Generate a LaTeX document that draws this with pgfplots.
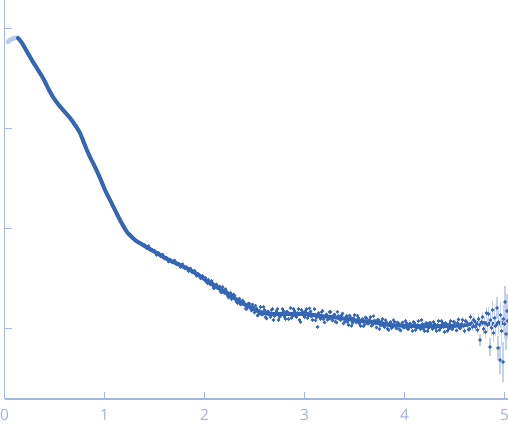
\documentclass[border=0pt]{standalone}
\usepackage{pgfplots}
\pgfplotsset{compat=1.18}
\usepackage{fontspec}
\setmainfont{Open Sans}
\definecolor{axiscol}{HTML}{A3B7E2}
\definecolor{labelcol}{HTML}{A2B2D8}
\definecolor{dotcol}{HTML}{3565B5}
\definecolor{errcol}{HTML}{C3D1EE}
\definecolor{lightcol}{HTML}{BACAEA}

\begin{document}
\begin{tikzpicture}
\useasboundingbox (-4.5bp,-38bp) rectangle (503.5bp,399bp);
\begin{axis}[
    at={(0,0)}, anchor=south west,
    scale only axis,
    width=503.5bp, height=399bp,
    xmin=0, xmax=5.035,
    ymin=0.3, ymax=4.29,
    axis x line=bottom, axis y line=left,
    axis line style={color=axiscol, line width=1.1bp, -},
    tick style={color=axiscol, line width=1bp},
    tick align=inside,
    major tick length=7bp,
    xtick={0,1,2,3,4,5},
    ytick={1,2,3,4},
    yticklabels={},
    /pgf/number format/assume math mode=true,
    xticklabel style={font=\fontsize{15.5bp}{18bp}\selectfont, text=labelcol, yshift=-7bp},
    dots/.style={only marks, mark=*, mark size=1.5bp, mark options={draw=dotcol, fill=dotcol}},
    ]
% excluded first points
\addplot[lightcol, line width=4.5bp, line cap=round] coordinates {
(0.035,3.87) (0.055,3.89) (0.075,3.90) (0.095,3.91) (0.115,3.91) (0.135,3.91)
};
% dense band core
\addplot[dotcol, line width=4bp, smooth, tension=0.4, line join=round, line cap=round] coordinates {
(0.135,3.91) (0.175,3.86) (0.215,3.79) (0.285,3.67) (0.335,3.59) (0.385,3.51)
(0.435,3.41) (0.485,3.32) (0.535,3.25) (0.585,3.19) (0.655,3.11) (0.705,3.04)
(0.755,2.96) (0.815,2.81) (0.855,2.72) (0.905,2.62) (0.955,2.51) (1.005,2.39)
(1.055,2.29) (1.105,2.19) (1.155,2.09) (1.225,1.97) (1.305,1.89) (1.385,1.84)
(1.505,1.77) (1.625,1.70) (1.755,1.64) (1.855,1.59) (1.955,1.53) (2.055,1.46)
(2.175,1.39) (2.285,1.32) (2.355,1.27) (2.455,1.22) (2.555,1.17) (2.655,1.15)
(2.755,1.15) (2.905,1.15) (3.025,1.15) (3.155,1.13) (3.355,1.11) (3.555,1.08)
(3.685,1.07) (3.855,1.04) (4.055,1.03) (4.255,1.03) (4.455,1.03) (4.605,1.04)
(4.755,1.06) (4.905,1.05) (5.025,1.07)
};
% scattered points, even hundredths
\addplot[dots] table {
x y
1.40 1.84
1.42 1.81
1.44 1.828
1.46 1.786
1.48 1.785
1.50 1.783
1.52 1.741
1.54 1.76
1.56 1.728
1.58 1.746
1.60 1.705
1.62 1.713
1.64 1.673
1.66 1.694
1.68 1.665
1.70 1.685
1.72 1.646
1.74 1.657
1.76 1.618
1.78 1.648
1.80 1.608
1.82 1.618
1.84 1.578
1.86 1.607
1.88 1.565
1.90 1.583
1.92 1.531
1.94 1.549
1.96 1.506
1.98 1.532
2.00 1.51
2.02 1.47
2.04 1.49
2.06 1.445
2.08 1.46
2.10 1.41
2.12 1.445
2.14 1.41
2.16 1.375
2.18 1.42
2.20 1.36
2.22 1.375
2.24 1.315
2.26 1.36
2.28 1.31
2.30 1.335
2.32 1.27
2.34 1.295
2.36 1.245
2.38 1.285
2.40 1.25
2.42 1.20
2.44 1.255
2.46 1.205
2.48 1.245
2.50 1.165
2.52 1.205
2.54 1.145
2.56 1.22
2.58 1.145
2.60 1.19
2.62 1.105
2.64 1.17
2.66 1.12
2.68 1.20
2.70 1.13
2.72 1.18
2.74 1.09
2.76 1.15
2.78 1.20
2.80 1.12
2.82 1.17
2.84 1.10
2.86 1.21
2.88 1.13
2.90 1.18
2.92 1.12
2.94 1.20
2.96 1.07
2.98 1.17
3.00 1.12
3.02 1.20
3.04 1.13
3.06 1.175
3.08 1.09
3.10 1.20
3.12 1.115
3.14 1.16
3.16 1.10
3.18 1.18
3.20 1.065
3.22 1.145
3.24 1.10
3.26 1.17
3.28 1.085
3.30 1.145
3.32 1.065
3.34 1.13
3.36 1.09
3.38 1.155
3.40 1.07
3.42 1.13
3.44 1.04
3.46 1.115
3.48 1.06
3.50 1.14
3.52 1.065
3.54 1.11
3.56 1.03
3.58 1.10
3.60 1.045
3.62 1.105
3.64 1.055
3.66 1.12
3.68 1.04
3.70 1.085
3.72 1.015
3.74 1.09
3.76 1.035
3.78 1.10
3.80 1.02
3.82 1.065
3.84 0.99
3.86 1.07
3.88 1.02
3.90 1.07
3.92 1.005
3.94 1.055
3.96 0.985
3.98 1.065
4.00 1.015
4.02 1.06
4.04 1.00
4.06 1.05
4.08 0.98
4.10 1.06
4.12 1.01
4.14 1.08
4.16 1.00
4.18 1.05
4.20 0.98
4.22 1.06
4.24 1.01
4.26 1.06
4.28 1.00
4.30 1.05
4.32 0.98
4.34 1.08
4.36 1.01
4.38 1.06
4.40 0.97
4.42 1.05
4.44 1.00
4.46 1.08
4.48 1.00
};
% scattered points, odd hundredths
\addplot[dots] table {
x y
2.01 1.51
2.03 1.457
2.05 1.463
2.07 1.48
2.09 1.41
2.11 1.438
2.13 1.406
2.15 1.425
2.17 1.363
2.19 1.381
2.21 1.398
2.23 1.335
2.25 1.352
2.27 1.299
2.29 1.346
2.31 1.302
2.33 1.258
2.35 1.304
2.37 1.253
2.39 1.273
2.41 1.203
2.43 1.243
2.45 1.253
2.47 1.183
2.49 1.213
2.51 1.233
2.53 1.133
2.55 1.183
2.57 1.146
2.59 1.222
2.61 1.118
2.63 1.175
2.65 1.141
2.67 1.19
2.69 1.09
2.71 1.16
2.73 1.20
2.75 1.12
2.77 1.14
2.79 1.18
2.81 1.10
2.83 1.17
2.85 1.15
2.87 1.11
2.89 1.20
2.91 1.13
2.93 1.16
2.95 1.09
2.97 1.19
2.99 1.14
3.01 1.18
3.03 1.11
3.05 1.206
3.07 1.123
3.09 1.14
3.11 1.087
3.13 1.02
3.15 1.121
3.17 1.169
3.19 1.097
3.21 1.134
3.23 1.092
3.25 1.17
3.27 1.098
3.29 1.136
3.31 1.074
3.33 1.172
3.35 1.10
3.37 1.137
3.39 1.054
3.41 1.111
3.43 1.068
3.45 1.135
3.47 1.032
3.49 1.109
3.51 1.076
3.53 1.133
3.55 1.051
3.57 1.089
3.59 1.027
3.61 1.116
3.63 1.054
3.65 1.092
3.67 1.031
3.69 1.129
3.71 1.055
3.73 1.092
3.75 0.998
3.77 1.075
3.79 1.031
3.81 1.088
3.83 1.004
3.85 1.051
3.87 1.01
3.89 1.089
3.91 1.028
3.93 1.067
3.95 0.996
3.97 1.044
3.99 1.013
4.01 1.082
4.03 1.001
4.05 1.05
4.07 1.02
4.09 1.07
4.11 0.99
4.13 1.04
4.15 1.01
4.17 1.09
4.19 1.00
4.21 1.05
4.23 0.98
4.25 1.06
4.27 1.02
4.29 1.07
4.31 1.01
4.33 1.04
4.35 0.99
4.37 1.08
4.39 1.02
4.41 1.06
4.43 0.98
4.45 1.05
4.47 1.002
4.49 1.073
};
% noisy tail with error bars
\addplot[dots,
    error bars/.cd, y dir=both, y explicit, error mark=none,
    error bar style={color=errcol, line width=1.2bp}]
    table[x=x, y=y, y error=e] {
x y e
4.50 1.065 0.02
4.51 1.03 0.02
4.52 0.985 0.02
4.53 1.06 0.02
4.54 1.095 0.02
4.55 1.01 0.02
4.56 1.01 0.02
4.57 1.05 0.02
4.58 1.09 0.03
4.59 1.03 0.03
4.60 0.98 0.03
4.61 1.08 0.03
4.62 1.07 0.03
4.63 1.04 0.03
4.64 0.995 0.03
4.65 1.00 0.03
4.66 1.12 0.03
4.67 1.06 0.03
4.68 1.02 0.04
4.69 1.09 0.04
4.70 1.08 0.04
4.71 1.02 0.04
4.72 1.05 0.04
4.73 0.99 0.04
4.74 1.10 0.05
4.75 1.04 0.05
4.755 0.89 0.06
4.77 1.07 0.05
4.78 1.12 0.05
4.79 1.00 0.06
4.80 1.06 0.06
4.81 0.97 0.06
4.82 1.16 0.06
4.83 1.04 0.07
4.84 1.15 0.07
4.855 0.82 0.09
4.86 1.09 0.08
4.87 1.01 0.08
4.88 1.19 0.09
4.89 0.96 0.09
4.90 1.11 0.10
4.91 1.03 0.10
4.925 1.21 0.11
4.935 0.81 0.12
4.94 1.07 0.12
4.955 0.69 0.14
4.96 1.14 0.13
4.97 0.98 0.14
4.985 0.67 0.20
4.99 1.10 0.14
5.00 1.05 0.15
5.005 1.27 0.16
5.015 0.95 0.16
5.025 1.18 0.17
5.03 1.08 0.18
};
\end{axis}
\end{tikzpicture}
\end{document}
